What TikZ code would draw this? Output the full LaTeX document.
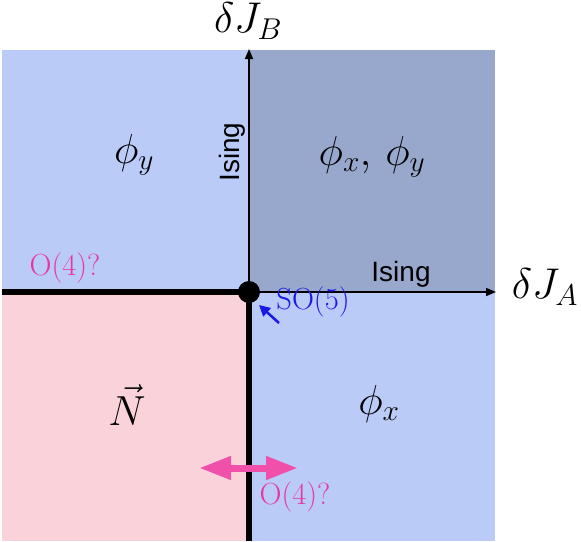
\RequirePackage{fix-cm}
\documentclass[tikz,border=0pt]{standalone}
\usepackage{fontspec}
\newfontfamily\isingfont{Liberation Sans}
\usetikzlibrary{arrows.meta}
\definecolor{blueA}{RGB}{186,203,247}
\definecolor{blueB}{RGB}{152,168,204}
\definecolor{pinkA}{RGB}{249,211,217}
\definecolor{magA}{RGB}{240,80,170}
\definecolor{magT}{RGB}{232,56,160}
\definecolor{soblue}{RGB}{25,25,230}
\tikzset{
  mathlbl/.style={font=\fontsize{42}{50}\selectfont, inner sep=0pt},
  axislbl/.style={font=\fontsize{43}{50}\selectfont, inner sep=0pt},
  isinglbl/.style={font=\isingfont\fontsize{28}{32}\selectfont, inner sep=0pt},
  pinklbl/.style={font=\fontsize{30.5}{34}\selectfont, text=magT, inner sep=0pt},
  bluelbl/.style={font=\fontsize{30.5}{34}\selectfont, text=soblue, inner sep=0pt},
  axis/.style={line width=1.5pt, -{Triangle[length=10pt,width=8pt]}},
  thickline/.style={line width=6pt},
}
\begin{document}
\begin{tikzpicture}[x=1pt,y=-1pt]
\useasboundingbox (0,0) rectangle (581,541);
% regions
\fill[blueA] (2,50) rectangle (249,292);
\fill[blueB] (249,50) rectangle (495,292);
\fill[pinkA] (2,292) rectangle (249,541);
\fill[blueA] (249,292) rectangle (495,541);
% coordinates
\coordinate (O) at (249,292);
\coordinate (L) at (2,292);
\coordinate (D) at (249,541);
\coordinate (T) at (249,49);
\coordinate (R) at (496,292);
% axes
\draw[axis] (O) -- (T);
\draw[axis] (O) -- (R);
% thick lines
\draw[thickline] (L) -- (O);
\draw[thickline] (O) -- (D);
\fill (O) circle (11);
% axis labels
\node[axislbl] (dJB) at (248,21) {$\delta J_B$};
\node[axislbl] (dJA) at (545,287) {$\delta J_A$};
% phase labels
\node[mathlbl] (py) at (134,155) {$\phi_y$};
\node[mathlbl] (pxy) at (372,157) {$\phi_x,\,\phi_y$};
\node[mathlbl] (N) at (127,405) {$\vec{N}$};
\node[mathlbl] (px) at (379,404) {$\phi_x$};
% Ising
\node[isinglbl, rotate=90] (isv) at (232,152) {Ising};
\node[isinglbl] (ish) at (401,274) {Ising};
% O(4)? labels
\node[pinklbl] (o4a) at (65,268) {O(4)?};
\node[pinklbl] (o4b) at (295,497) {O(4)?};
% SO(5)
\node[bluelbl] (so5) at (313,302) {SO(5)};
\coordinate (soT) at (279,323);
\coordinate (soH) at (259,305);
\draw[soblue, line width=2.5pt, -{Triangle[length=11pt,width=11pt]}] (soT) -- (soH);
% pink double arrow
\coordinate (pa) at (199,468);
\coordinate (pb) at (298,468);
\draw[magA, line width=7pt, {Triangle[length=32pt,width=22pt]}-{Triangle[length=32pt,width=22pt]}] (pa) -- (pb);
\end{tikzpicture}
\end{document}
